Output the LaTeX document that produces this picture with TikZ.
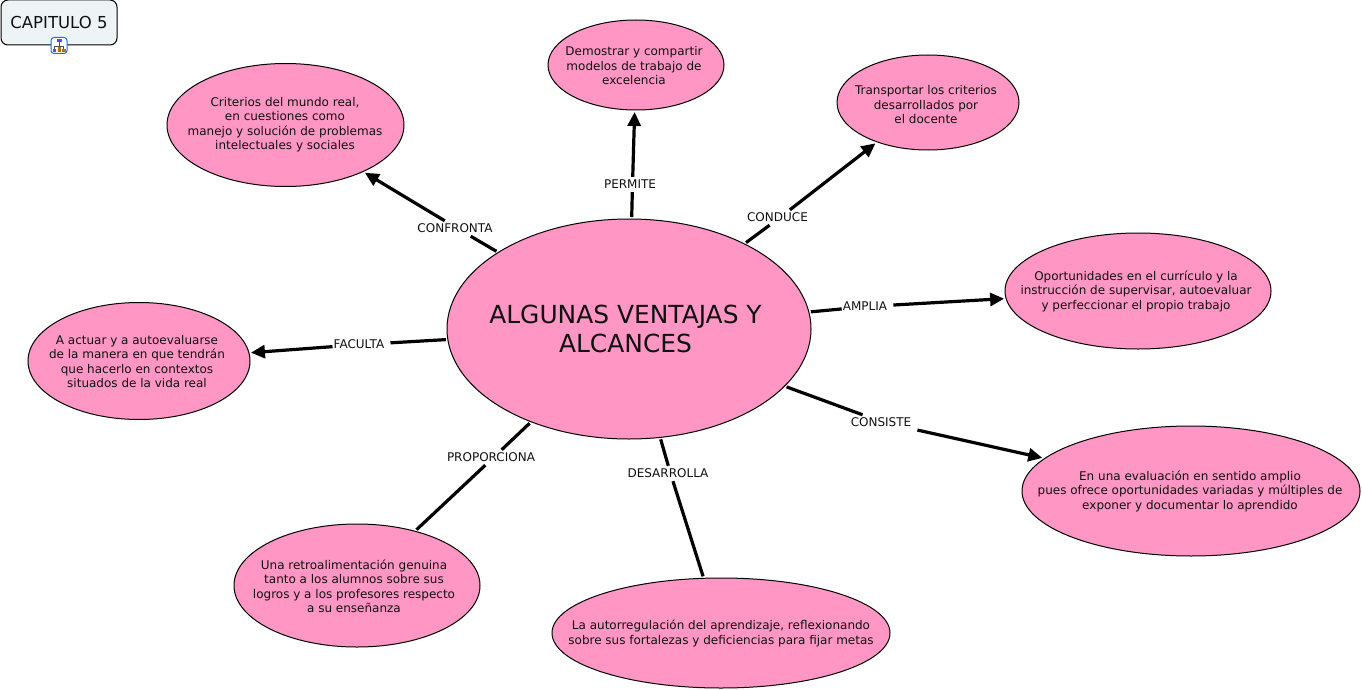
\documentclass[tikz,border=0pt]{standalone}
\usepackage{fontspec}
\setmainfont{DejaVu Sans}
\usetikzlibrary{shapes.geometric,arrows.meta}
\definecolor{bubpink}{HTML}{FF96C3}
\definecolor{boxfill}{HTML}{EEF4F5}
\definecolor{inkblack}{HTML}{111111}
\tikzset{
  bub/.style={ellipse,draw=black,line width=1pt,fill=bubpink,inner sep=0pt,outer sep=2pt},
  txt/.style={align=center,inner sep=0pt,text=inkblack,font=\fontsize{12}{14.5}\selectfont},
  lbl/.style={inner sep=1pt,text height=10pt,text depth=3pt,text=inkblack,font=\fontsize{12}{14}\selectfont},
  link/.style={line width=3.2pt,draw=black},
  arrowlink/.style={link,-{Triangle[length=14pt,width=13pt]}}
}
\newcommand{\lbtext}[1]{#1\kern5pt}
\begin{document}
\begin{tikzpicture}[x=1pt,y=-1pt]
\useasboundingbox (0,0) rectangle (1362,690);
\node[bub,minimum width=364pt,minimum height=220pt] (main) at (629,329) {};
\node[bub,minimum width=176pt,minimum height=90pt] (demo) at (636,65) {};
\node[bub,minimum width=182pt,minimum height=95pt] (trans) at (928,102.5) {};
\node[bub,minimum width=237pt,minimum height=123pt] (crit) at (285.5,125) {};
\node[bub,minimum width=266pt,minimum height=116pt] (opor) at (1138,291) {};
\node[bub,minimum width=222pt,minimum height=117pt] (actu) at (139,361) {};
\node[bub,minimum width=338pt,minimum height=130pt] (eval) at (1191,491) {};
\node[bub,minimum width=246pt,minimum height=123pt] (retro) at (357,585.5) {};
\node[bub,minimum width=338pt,minimum height=110pt] (auto) at (721,633) {};
\node[txt,font=\fontsize{24.9}{29}\selectfont] (maint) at (625.5,328.5) {ALGUNAS VENTAJAS Y\\ALCANCES};
\node[txt] (demot) at (634,66) {Demostrar y compartir\\modelos de trabajo de\\excelencia};
\node[txt] (transt) at (926,105) {Transportar los criterios\\desarrollados por\\el docente};
\node[txt] (critt) at (285,124.5) {Criterios del mundo real,\\en cuestiones como\\manejo y solución de problemas\\intelectuales y sociales};
\node[txt] (oport) at (1136,291) {Oportunidades en el currículo y la\\instrucción de supervisar, autoevaluar\\y perfeccionar el propio trabajo};
\node[txt] (actut) at (137,361.5) {A actuar y a autoevaluarse\\de la manera en que tendrán\\que hacerlo en contextos\\situados de la vida real};
\node[txt] (evalt) at (1190,491) {En una evaluación en sentido amplio\\pues ofrece oportunidades variadas y múltiples de\\exponer y documentar lo aprendido};
\node[txt] (retrot) at (354,586.5) {Una retroalimentación genuina\\tanto a los alumnos sobre sus\\logros y a los profesores respecto\\a su enseñanza};
\node[txt] (autot) at (721,633.5) {La autorregulación del aprendizaje, reflexionando\\sobre sus fortalezas y deficiencias para fijar metas};
\node[lbl] (lperm) at (632.5,184.5) {\lbtext{PERMITE}};
\node[lbl] (lcond) at (780,217.5) {\lbtext{CONDUCE}};
\node[lbl] (lconf) at (457.5,228.5) {\lbtext{CONFRONTA}};
\node[lbl] (lampl) at (867.5,306.5) {\lbtext{AMPLIA}};
\node[lbl] (lfacu) at (361.5,344.5) {\lbtext{FACULTA}};
\node[lbl] (lprop) at (493.5,457.5) {\lbtext{PROPORCIONA}};
\node[lbl] (ldesa) at (670.5,473.5) {\lbtext{DESARROLLA}};
\node[lbl] (lcons) at (883.5,422.5) {\lbtext{CONSISTE}};
\draw[link] (main) -- (lperm); \draw[arrowlink] (lperm) -- (demo);
\draw[link] (main) -- (lcond); \draw[arrowlink] (lcond) -- (trans);
\draw[link] (main) -- (lconf); \draw[arrowlink] (lconf) -- (crit);
\draw[link] (main) -- (lampl); \draw[arrowlink] (lampl) -- (opor);
\draw[link] (main) -- (lfacu); \draw[arrowlink] (lfacu) -- (actu);
\draw[link] (main) -- (lcons); \draw[arrowlink] (lcons) -- (eval);
\draw[link] (main) -- (lprop); \draw[link] (lprop) -- (retro);
\draw[link] (main) -- (ldesa); \draw[link] (ldesa) -- (auto);
\node[draw=black,line width=1pt,fill=boxfill,rounded corners=7pt,minimum width=116pt,minimum height=45pt,inner sep=0pt,text=inkblack,font=\fontsize{16.5}{18}\selectfont] (cap) at (59,22.5) {CAPITULO 5};
% icon
\draw[draw=blue!55!cyan,fill=white,line width=1pt,rounded corners=3pt] (51,37.5) rectangle (67,53.5);
\draw[line width=.7pt,draw=black!70] (59,42) -- (59,47) (54.5,49) -- (54.5,46.5) -- (63.5,46.5) -- (63.5,49);
\fill[blue!70] (56.5,39.5) rectangle (61.5,42.5);
\fill[blue!70] (52.5,49) rectangle (56,52);
\fill[orange!80!black] (57.5,47) rectangle (60.5,52);
\fill[orange!80!black] (62,49) rectangle (65.5,52);
\end{tikzpicture}
\end{document}
